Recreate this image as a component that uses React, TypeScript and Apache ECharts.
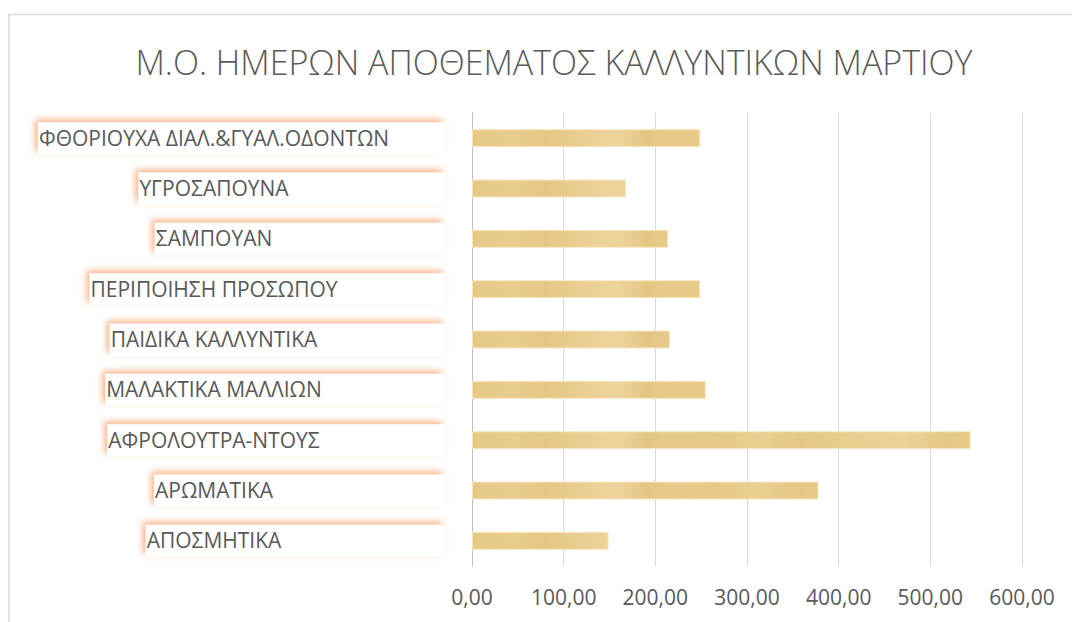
import React, { useEffect, useRef } from "react";
import * as echarts from "echarts";

const TITLE = "Μ.Ο. ΗΜΕΡΩΝ ΑΠΟΘΕΜΑΤΟΣ ΚΑΛΛΥΝΤΙΚΩΝ ΜΑΡΤΙΟΥ";

const categories = [
  "ΦΘΟΡΙΟΥΧΑ ΔΙΑΛ.&ΓΥΑΛ.ΟΔΟΝΤΩΝ",
  "ΥΓΡΟΣΑΠΟΥΝΑ",
  "ΣΑΜΠΟΥΑΝ",
  "ΠΕΡΙΠΟΙΗΣΗ ΠΡΟΣΩΠΟΥ",
  "ΠΑΙΔΙΚΑ ΚΑΛΛΥΝΤΙΚΑ",
  "ΜΑΛΑΚΤΙΚΑ ΜΑΛΛΙΩΝ",
  "ΑΦΡΟΛΟΥΤΡΑ-ΝΤΟΥΣ",
  "ΑΡΩΜΑΤΙΚΑ",
  "ΑΠΟΣΜΗΤΙΚΑ",
];

const values = [249, 168, 214, 249, 216, 255, 544, 378, 149];

const X_MIN = 0;
const X_MAX = 600;
const X_STEP = 100;

const FONT = '"Open Sans", "Noto Sans", sans-serif';
const TEXT_COLOR = "#595959";
const LABEL_SIZE = 21;

function measure(text: string): number {
  const ctx = document.createElement("canvas").getContext("2d");
  if (!ctx) return text.length * 12;
  ctx.font = `${LABEL_SIZE}px ${FONT}`;
  return ctx.measureText(text).width;
}

export default function App() {
  const ref = useRef<HTMLDivElement>(null);

  useEffect(() => {
    if (!ref.current) return;
    const chart = echarts.init(ref.current, undefined, { renderer: "svg" });

    const labelCenter = 214;
    const boxRight = 445;
    const rich: Record<string, any> = {};
    categories.forEach((c, i) => {
      const w = measure(c);
      const rp = Math.max(4, boxRight - labelCenter - w / 2);
      rich["c" + i] = {
        fontFamily: FONT,
        fontSize: LABEL_SIZE,
        lineHeight: 22,
        color: TEXT_COLOR,
        backgroundColor: "#ffffff",
        padding: [5, rp, 6, 1],
        shadowColor: "rgba(242,150,90,0.7)",
        shadowBlur: 6,
        shadowOffsetX: -3,
        shadowOffsetY: -3,
      };
    });

    const barFill = new echarts.graphic.LinearGradient(
      472,
      0,
      1000,
      0,
      [
        { offset: 0, color: "#e6c987" },
        { offset: 0.08, color: "#e9cd8e" },
        { offset: 0.14, color: "#e5c785" },
        { offset: 0.22, color: "#ebd095" },
        { offset: 0.28, color: "#edd49c" },
        { offset: 0.33, color: "#e4c683" },
        { offset: 0.38, color: "#e8cb8b" },
        { offset: 0.46, color: "#e6c886" },
        { offset: 0.54, color: "#ebd093" },
        { offset: 0.62, color: "#e5c785" },
        { offset: 0.72, color: "#eacf91" },
        { offset: 0.82, color: "#ecd298" },
        { offset: 0.9, color: "#e5c785" },
        { offset: 1, color: "#e9ce90" },
      ],
      true
    );

    chart.setOption({
      animation: false,
      backgroundColor: "#ffffff",
      title: {
        text: TITLE,
        left: 549,
        top: 40,
        textAlign: "center",
        textStyle: {
          fontFamily: FONT,
          fontSize: 34,
          fontWeight: 300,
          color: TEXT_COLOR,
        },
      },
      grid: { left: 472, right: 50, top: 113, bottom: 56 },
      xAxis: {
        type: "value",
        min: X_MIN,
        max: X_MAX,
        interval: X_STEP,
        axisLine: { show: false },
        axisTick: { show: false },
        splitLine: { show: true, lineStyle: { color: "#d9d9d9", width: 1 } },
        axisLabel: {
          fontFamily: FONT,
          fontSize: LABEL_SIZE,
          color: TEXT_COLOR,
          margin: 20,
          formatter: (v: number) => v.toFixed(2).replace(".", ","),
        },
      },
      yAxis: {
        type: "category",
        data: categories,
        inverse: true,
        axisLine: { show: true, lineStyle: { color: "#bfbfbf", width: 1 } },
        axisTick: { show: false },
        splitLine: { show: false },
        axisLabel: {
          interval: 0,
          margin: 27,
          align: "right",
          formatter: (v: string, i: number) => `{c${i}|${v}}`,
          rich,
        },
      },
      series: [
        {
          type: "bar",
          data: values,
          barWidth: 18,
          itemStyle: {
            color: barFill,
            borderColor: "rgba(248,232,195,0.95)",
            borderWidth: 1,
          },
        },
      ],
      graphic: [
        {
          type: "rect",
          silent: true,
          z: -10,
          shape: { x: 9, y: 14.5, width: 1100, height: 700 },
          style: { fill: "none", stroke: "#d9d9d9", lineWidth: 1.5 },
        },
      ],
    });

    return () => chart.dispose();
  }, []);

  return (
    <div
      ref={ref}
      style={{
        position: "fixed",
        left: 0,
        top: 0,
        width: 1072,
        height: 622,
        background: "#ffffff",
      }}
    />
  );
}
